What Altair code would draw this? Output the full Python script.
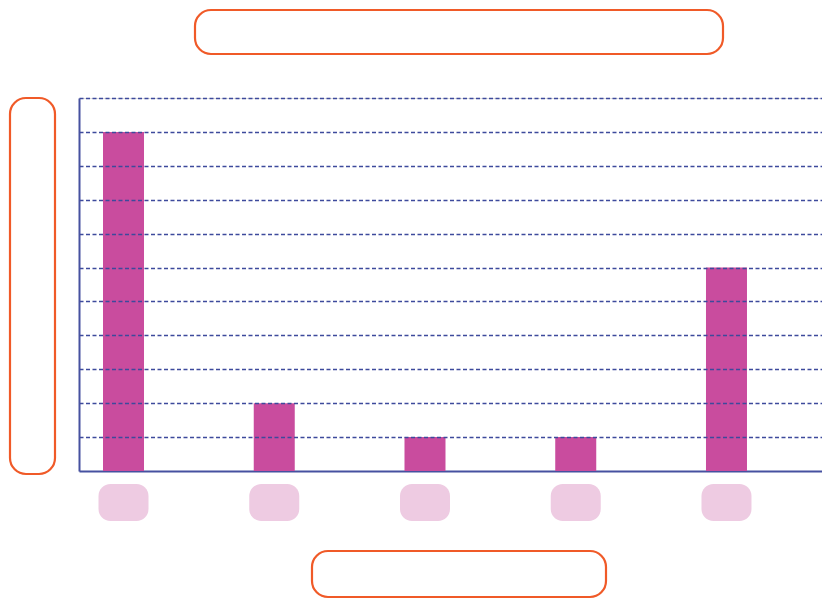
import altair as alt
import pandas as pd

categories = ["A", "B", "C", "D", "E"]
values = [10, 2, 1, 1, 6]
grid_values = list(range(1, 12))

df = pd.DataFrame({"cat": categories, "value": values})

ORANGE = "#f05a28"
BAR = "#c94c9e"
PINK = "#eecbe2"
AXIS = "#4651a0"
GRID = "#3d4a9c"

xscale = alt.Scale(paddingInner=0.728, paddingOuter=0.3284, align=0.2424)
xenc = alt.X("cat:N", scale=xscale, sort=categories,
             axis=alt.Axis(labels=False, ticks=False, title=None, grid=False,
                           domainColor=AXIS, domainWidth=2))

one = alt.Data(values=[{"k": 1}])


def box(x1, x2, y1, y2):
    return alt.Chart(one).mark_rect(
        fill="white", stroke=ORANGE, strokeWidth=2.2, cornerRadius=16
    ).encode(x=alt.value(x1), x2=alt.value(x2), y=alt.value(y1), y2=alt.value(y2))


title_box = box(116, 644, -88, -44)
ylabel_box = box(-69, -24, 0, 376)
xlabel_box = box(233, 527, 453, 499)

label_boxes = alt.Chart(df).mark_bar(
    width=50, cornerRadius=12, color=PINK
).encode(x=xenc, y=alt.value(386), y2=alt.value(423))

bars = alt.Chart(df).mark_bar(color=BAR).encode(
    x=xenc,
    y=alt.Y("value:Q", scale=alt.Scale(domain=[0, 11], nice=False),
            axis=alt.Axis(values=grid_values, labels=False, ticks=False, title=None,
                          grid=True, gridColor=GRID, gridDash=[4, 2.5], gridWidth=1.6,
                          domainColor=AXIS, domainWidth=2, zindex=1)),
)

chart = alt.layer(title_box, ylabel_box, xlabel_box, label_boxes, bars).properties(
    width=743, height=373,
    autosize=alt.AutoSizeParams(type="none"),
    padding={"left": 71, "top": 90, "right": 0, "bottom": 128},
).configure_view(stroke=None).configure(background="white")

chart.save("out.html", embed_options={"renderer": "svg", "actions": False})
